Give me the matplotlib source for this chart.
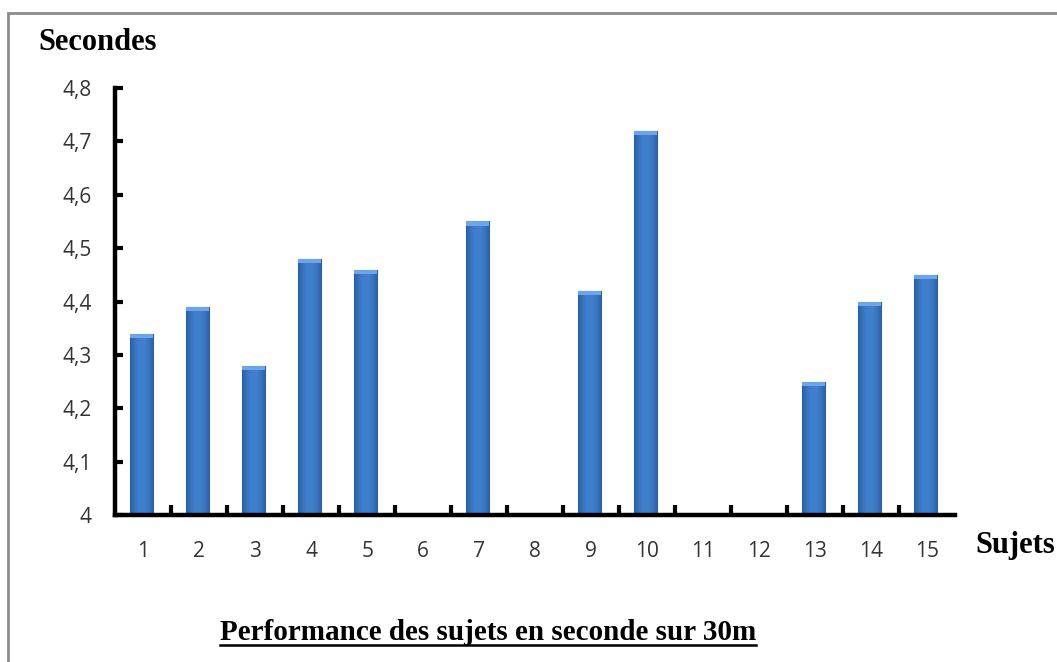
import numpy as np
import matplotlib
matplotlib.use("Agg")
import matplotlib.pyplot as plt
from matplotlib.patches import Rectangle
from matplotlib.lines import Line2D

# data (subjects with no bar have no value)
sujets = list(range(1, 16))
temps = [4.34, 4.39, 4.28, 4.48, 4.46, None, 4.55, None, 4.42, 4.72,
         None, None, 4.25, 4.40, 4.45]
y_ticks = [4.0, 4.1, 4.2, 4.3, 4.4, 4.5, 4.6, 4.7, 4.8]
y_labels = ["4", "4,1", "4,2", "4,3", "4,4", "4,5", "4,6", "4,7", "4,8"]

fig = plt.figure(figsize=(10.57, 6.62), dpi=100)
fig.patch.set_facecolor("white")

# grey frame around the chart area
fig.patches.append(Rectangle((8 / 1057, -0.05), 1.1, 1 - 13 / 662 + 0.05,
                             transform=fig.transFigure, fill=False,
                             edgecolor="#8c8c8c", linewidth=2))

ax = fig.add_axes([0.109, 0.222, 0.7945, 0.645])

# horizontal gradient for the bars (dark edges, lighter middle)
grad = np.linspace(-1, 1, 64)
shade = 1 - np.abs(grad) ** 2
cmap = matplotlib.colors.LinearSegmentedColormap.from_list(
    "bar", ["#2a5ea3", "#4080cc"])
img = shade[np.newaxis, :]

w = 0.42
for x, v in zip(sujets, temps):
    if v is None:
        continue
    r = Rectangle((x - w / 2 - 0.03, 4.0), w, v - 4.0, facecolor="#3a73c0",
                  edgecolor="#2a5592", linewidth=0.8, zorder=2)
    ax.add_patch(r)
    im = ax.imshow(img, cmap=cmap, aspect="auto", zorder=2,
                   extent=(x - w / 2 - 0.03, x + w / 2 - 0.03, 4.0, v))
    im.set_clip_path(r)
    # light cap at the top
    ax.add_patch(Rectangle((x - w / 2 - 0.03, v - 0.008), w, 0.008,
                           facecolor="#6fa5e6", edgecolor="none", zorder=3))

ax.set_xlim(0.5, 15.5)
ax.set_ylim(4.0, 4.8)

for s in ["top", "right"]:
    ax.spines[s].set_visible(False)
for s in ["left", "bottom"]:
    ax.spines[s].set_linewidth(3.2)
    ax.spines[s].set_color("black")

ax.set_yticks(y_ticks)
ax.set_yticklabels(y_labels, fontsize=15, family="Open Sans", color="#333333")
ax.tick_params(axis="y", direction="in", length=6, width=3, pad=17)

# ticks between categories, labels at category centres
ax.set_xticks(np.arange(1.5, 15.5, 1.0))
ax.set_xticklabels([])
ax.set_xticks(sujets, minor=True)
ax.set_xticklabels([str(s) for s in sujets], minor=True, fontsize=15,
                   family="Open Sans", color="#333333")
ax.tick_params(axis="x", which="major", direction="in", length=7, width=3)
ax.tick_params(axis="x", which="minor", length=0, pad=19)

fig.text(38 / 1057, 1 - 42 / 662, "Secondes", fontsize=22, fontweight="bold",
         family="Liberation Serif", va="center", ha="left")
fig.text(975 / 1057, 1 - 546 / 662, "Sujets", fontsize=22, fontweight="bold",
         family="Liberation Serif", va="center", ha="left")
title = fig.text(488 / 1057, 1 - 633 / 662,
                 "Performance des sujets en seconde sur 30m", fontsize=21,
                 fontweight="bold", family="Liberation Serif",
                 va="center", ha="center")

# underline the caption
fig.canvas.draw()
bb = title.get_window_extent().transformed(fig.transFigure.inverted())
fig.add_artist(Line2D([bb.x0, bb.x1], [bb.y0 + 0.002, bb.y0 + 0.002],
                      transform=fig.transFigure, color="black", linewidth=1.8))

fig.savefig("out.png", dpi=100)
